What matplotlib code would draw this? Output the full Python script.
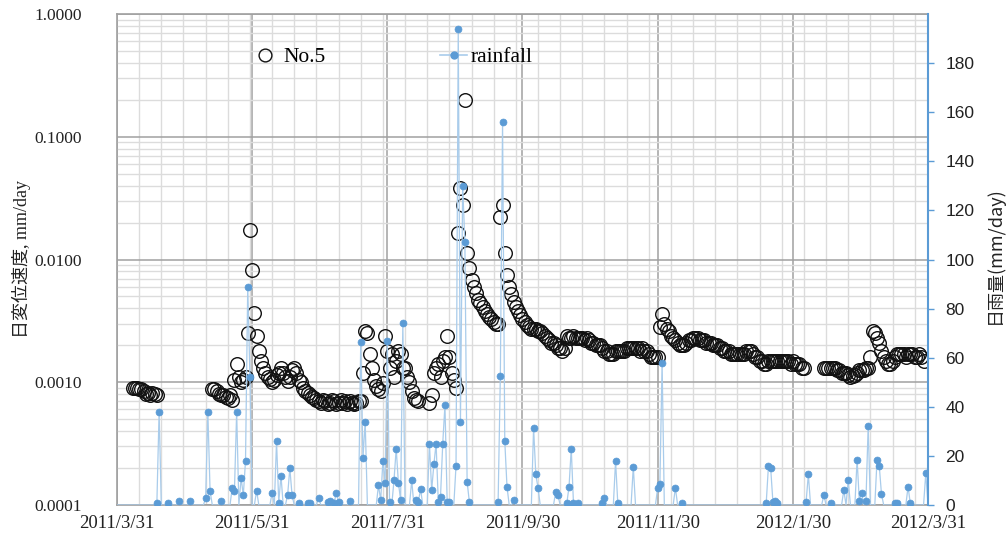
import matplotlib
matplotlib.use("Agg")
import matplotlib.pyplot as plt
import matplotlib.dates as mdates
from matplotlib.ticker import FixedLocator, FuncFormatter, LogLocator, NullFormatter
from matplotlib.lines import Line2D
import numpy as np
import datetime as dt

# ---------------- data ----------------
start_date = dt.date(2011, 3, 31)
end_date = dt.date(2012, 3, 31)

# daily displacement velocity (mm/day), segments of consecutive days
vel_seg_start = [7, 43, 141, 319]          # days after 2011/3/31
vel_seg1 = [0.0009, 0.0009, 0.0009, 0.00088, 0.00088, 0.00085, 0.0008, 0.00082,
            0.00078, 0.00082, 0.0008, 0.00078]
vel_seg2 = [0.00088, 0.00088, 0.00085, 0.0008, 0.00078, 0.00078, 0.00076, 0.00075, 0.00078, 0.00072,
            0.00105, 0.0014, 0.0011, 0.001, 0.00105, 0.0011, 0.0025, 0.0173, 0.0082, 0.0037,
            0.0024, 0.0018, 0.0015, 0.0013, 0.0012, 0.0011, 0.00107, 0.001, 0.00105, 0.00115,
            0.0012, 0.0013, 0.0012, 0.0011, 0.00103, 0.0011, 0.00127, 0.0013, 0.0012, 0.00105,
            0.001, 0.0009, 0.00085, 0.00082, 0.00078, 0.00076, 0.00075, 0.00072, 0.0007, 0.00068,
            0.00072, 0.0007, 0.00066, 0.00068, 0.00072, 0.0007, 0.00066, 0.00068, 0.00072, 0.00068,
            0.0007, 0.00066, 0.0007, 0.00068, 0.00066, 0.00068, 0.0007, 0.0007, 0.0012, 0.0026,
            0.0025, 0.0017, 0.0013, 0.00105, 0.00093, 0.00088, 0.00085, 0.00098, 0.0024, 0.0018,
            0.0013, 0.0017, 0.0011, 0.0015, 0.0018, 0.0017, 0.0013, 0.0013, 0.0011, 0.001,
            0.00085, 0.00075, 0.00072, 0.0007]
vel_seg3 = [0.00068, 0.00078, 0.0012, 0.0013, 0.0014, 0.0011, 0.0015, 0.0016, 0.0024, 0.0016,
            0.0012, 0.00105, 0.0009, 0.0163, 0.038, 0.028, 0.2, 0.0113, 0.0085, 0.0068,
            0.006, 0.0053, 0.0047, 0.0044, 0.0041, 0.0038, 0.0036, 0.0034, 0.0033, 0.0031,
            0.003, 0.003, 0.022, 0.028, 0.0113, 0.0075, 0.006, 0.0052, 0.0045, 0.0041,
            0.0038, 0.0035, 0.0033, 0.0031, 0.0029, 0.0028, 0.0027, 0.0027, 0.0027, 0.0026,
            0.0026, 0.0025, 0.0024, 0.0023, 0.0022, 0.0021, 0.0021, 0.002, 0.0019, 0.0019,
            0.0018, 0.0019, 0.0024, 0.0023, 0.0023, 0.0024, 0.0023, 0.0023, 0.0023, 0.0023,
            0.0022, 0.0023, 0.0022, 0.0021, 0.0021, 0.002, 0.002, 0.002, 0.0019, 0.0018,
            0.0018, 0.0017, 0.0017, 0.0017, 0.0018, 0.0018, 0.0018, 0.0018, 0.0018, 0.0019,
            0.0019, 0.0019, 0.0019, 0.0019, 0.0019, 0.0018, 0.0019, 0.0018, 0.0018, 0.0017,
            0.0016, 0.0016, 0.0016, 0.0016, 0.0028, 0.0036, 0.003, 0.0027, 0.0026, 0.0024,
            0.0023, 0.0022, 0.0021, 0.002, 0.002, 0.002, 0.0021, 0.0022, 0.0022, 0.0023,
            0.0023, 0.0023, 0.0022, 0.0022, 0.0022, 0.0021, 0.0021, 0.0021, 0.002, 0.002,
            0.002, 0.0019, 0.0019, 0.0018, 0.0018, 0.0018, 0.0017, 0.0017, 0.0017, 0.0017,
            0.0017, 0.0017, 0.0017, 0.0018, 0.0018, 0.0018, 0.0017, 0.0016, 0.0016, 0.0015,
            0.0015, 0.0014, 0.0014, 0.0015, 0.0015, 0.0015, 0.0015, 0.0015, 0.0015, 0.0015,
            0.0015, 0.0015, 0.0015, 0.0014, 0.0015, 0.0014, 0.0014, 0.0014, 0.0013, 0.0013]
vel_seg4 = [0.0013, 0.0013, 0.0013, 0.0013, 0.0013, 0.0013, 0.00126, 0.00125, 0.0012, 0.0012,
            0.00118, 0.00115, 0.0011, 0.00112, 0.00115, 0.0012, 0.00126, 0.00125, 0.00125, 0.0013,
            0.0013, 0.0016, 0.0026, 0.0025, 0.0023, 0.0021, 0.0018, 0.0016, 0.0015, 0.0014,
            0.0014, 0.0015, 0.0016, 0.0017, 0.0017, 0.0017, 0.0017, 0.0016, 0.0017, 0.0017,
            0.0017, 0.0016, 0.0016, 0.0017, 0.0016, 0.0015]

# daily rainfall (mm/day) on rainy days (days after 2011/3/31)
rain_day = [18, 19, 23, 28, 33, 40, 41, 42, 47, 52, 53, 54, 56, 57, 58, 59, 60, 63, 70, 72,
            73, 74, 77, 78, 79, 82, 86, 87, 91, 95, 96, 98, 99, 100, 105, 110, 111, 112, 118, 119,
            120, 121, 122, 123, 125, 126, 127, 128, 129, 133, 135, 136, 137, 141, 142, 143, 144, 145, 146, 147,
            148, 149, 150, 153, 154, 155, 156, 157, 158, 159, 172, 173, 174, 175, 176, 179, 188, 189, 190, 198,
            199, 203, 204, 205, 206, 208, 219, 220, 225, 226, 233, 244, 245, 246, 252, 255, 293, 294, 295, 296,
            297, 298, 311, 312, 319, 322, 328, 330, 334, 335, 336, 338, 339, 343, 344, 345, 351, 352, 357, 358,
            365]
rain_mm = [1, 38, 1, 1.8, 1.8, 2.7, 38, 5.8, 1.8, 7, 5.8, 38, 11, 4, 18, 89, 52, 5.8, 5, 26,
           1, 12, 4, 15, 4, 1, 1, 1, 3, 1.4, 1.6, 1, 5, 1.4, 1.6, 66.5, 19, 34, 8, 2,
           18, 9, 67, 1.4, 10, 23, 9, 2, 74, 10, 2, 1.4, 6.4, 25, 6, 16.5, 25, 1.4, 3.4, 25,
           40.7, 1.4, 1.4, 16, 194, 34, 130, 107, 9.5, 1.4, 1.4, 52.5, 156, 26, 7.5, 2, 31.5, 12.5, 7, 5.4,
           4, 0.7, 7.5, 23, 0.7, 0.7, 0.7, 3, 18, 0.7, 15.6, 7, 8.4, 58, 7, 1, 1, 16, 15, 1.4,
           1.8, 1, 1.4, 12.5, 4, 0.7, 6, 10, 18.5, 1.8, 5, 1.8, 32.3, 18.5, 16, 4.5, 0.7, 1, 7.5, 0.7,
           13]

xtick_labels_dates = ["2011-03-31", "2011-05-31", "2011-07-31", "2011-09-30",
                      "2011-11-30", "2012-01-30", "2012-03-31"]
rain_ticks = [0, 20, 40, 60, 80, 100, 120, 140, 160, 180]
vel_ticks = [0.0001, 0.001, 0.01, 0.1, 1.0]

# ---------------- build series ----------------
def day_to_num(d):
    return mdates.date2num(start_date + dt.timedelta(days=int(d)))

vel_x, vel_y = [], []
for s, seg in zip(vel_seg_start, [vel_seg1, vel_seg2, vel_seg3, vel_seg4]):
    for i, v in enumerate(seg):
        vel_x.append(day_to_num(s + i))
        vel_y.append(v)

n_days = (end_date - start_date).days
rain_full = np.zeros(n_days + 1)
rain_full[np.array(rain_day)] = rain_mm
rain_x_full = [day_to_num(d) for d in range(n_days + 1)]
rain_x_pts = [day_to_num(d) for d in rain_day]

# ---------------- figure ----------------
SERIF = "Liberation Serif"
fig = plt.figure(figsize=(10.08, 5.42), dpi=100)
ax = fig.add_axes([117 / 1008, 37 / 542, 811 / 1008, 491 / 542])
ax2 = ax.twinx()

GRID_MAJ = "#A0A0A0"
GRID_MIN = "#DCDCDC"
BLUE = "#5B9BD5"
LBLUE = "#A9CCEB"

ax.plot(vel_x, vel_y, linestyle="none", marker="o", markersize=9.8,
        markerfacecolor="none", markeredgecolor="#111111", markeredgewidth=1.0, zorder=3)

ax.set_yscale("log")
ax.set_ylim(1e-4, 1.0)
ax.set_xlim(mdates.date2num(start_date), mdates.date2num(end_date))

ax.yaxis.set_major_locator(FixedLocator(vel_ticks))
ax.yaxis.set_major_formatter(FuncFormatter(lambda v, p: f"{v:.4f}"))
ax.yaxis.set_minor_locator(LogLocator(base=10, subs=np.arange(2, 10)))
ax.yaxis.set_minor_formatter(NullFormatter())

major_x = [mdates.date2num(dt.date.fromisoformat(s)) for s in xtick_labels_dates]
minor_x = [day_to_num(d) for d in range(0, n_days + 1, 10)]
ax.xaxis.set_major_locator(FixedLocator(major_x))
ax.xaxis.set_minor_locator(FixedLocator(minor_x))


def date_fmt(v, p):
    d = mdates.num2date(v)
    return f"{d.year}/{d.month}/{d.day}"


ax.xaxis.set_major_formatter(FuncFormatter(date_fmt))

ax.grid(which="minor", axis="both", color=GRID_MIN, linewidth=1.0, zorder=0)
ax.grid(which="major", axis="both", color=GRID_MAJ, linewidth=1.1, zorder=0)
ax.set_axisbelow(True)

ax.tick_params(axis="y", which="both", length=0, pad=25, labelsize=12.5, labelcolor="#222222")
ax.tick_params(axis="x", which="both", length=0, pad=7, labelsize=13.5, labelcolor="#222222")
for lab in ax.get_xticklabels() + ax.get_yticklabels():
    lab.set_fontfamily(SERIF)

for side in ["left", "top", "bottom"]:
    ax.spines[side].set_color(GRID_MAJ)
    ax.spines[side].set_linewidth(1.2)
ax.spines["right"].set_visible(False)

# rainfall on secondary axis
ax2.plot(rain_x_full, rain_full, color=LBLUE, linewidth=0.9, zorder=2)
ax2.plot(rain_x_pts, rain_mm, linestyle="none", marker="o", markersize=5,
         markerfacecolor=BLUE, markeredgecolor=BLUE, markeredgewidth=0.5, zorder=3)
ax2.set_ylim(0, 200)
ax2.yaxis.set_major_locator(FixedLocator(rain_ticks))
ax2.tick_params(axis="y", which="major", direction="out", length=4.5, width=1.0,
                color=BLUE, pad=8, labelsize=12.5, labelcolor="#222222")
for lab in ax2.get_yticklabels():
    lab.set_fontfamily("Liberation Sans")
for side in ["left", "top", "bottom"]:
    ax2.spines[side].set_visible(False)
ax2.spines["right"].set_color(BLUE)
ax2.spines["right"].set_linewidth(1.5)

# axis titles
fig.text(21 / 1008, 1 - 259 / 542, "日変位速度, mm/day", rotation=90, ha="center", va="center",
         fontsize=13, family=[SERIF, "Noto Sans CJK JP"], color="#222222")
fig.text(995 / 1008, 1 - 255 / 542, "日雨量(mm/day)", rotation=90, ha="center", va="center",
         fontsize=13, family=["Noto Sans CJK JP"], color="#222222")

# legends
h_vel = Line2D([], [], linestyle="none", marker="o", markersize=9.2,
               markerfacecolor="none", markeredgecolor="#111111", markeredgewidth=1.0)
h_rain = Line2D([], [], color=LBLUE, linewidth=1.2, marker="o", markersize=5,
                markerfacecolor=BLUE, markeredgecolor=BLUE)
leg_font = {"family": SERIF, "size": 15.5}
fig.legend([h_vel], ["No.5"], loc="center left", bbox_to_anchor=(256 / 1008, 1 - 57 / 542),
           frameon=False, prop=leg_font, handlelength=0.84, handletextpad=0.42,
           borderpad=0, borderaxespad=0, numpoints=1)
fig.legend([h_rain], ["rainfall"], loc="center left", bbox_to_anchor=(440 / 1008, 1 - 57 / 542),
           frameon=False, prop=leg_font, handlelength=1.26, handletextpad=0.14,
           borderpad=0, borderaxespad=0, numpoints=1)

fig.savefig("out.png", dpi=100)
